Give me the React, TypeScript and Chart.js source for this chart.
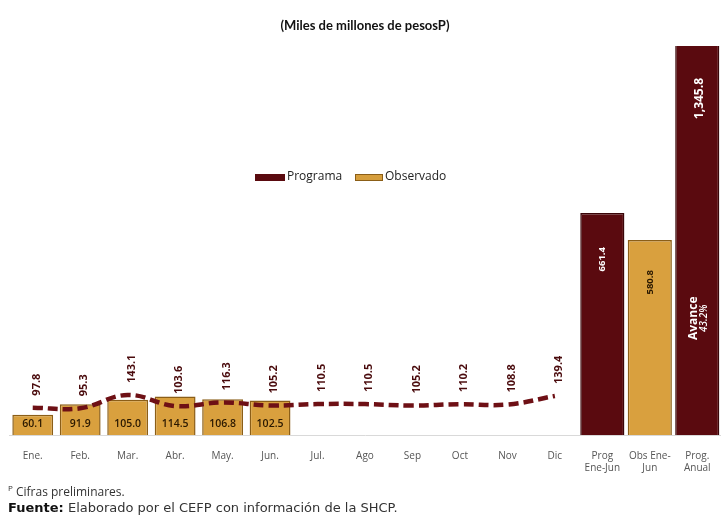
import React, { useEffect, useRef } from "react";
import { Chart, registerables } from "chart.js";

Chart.register(...registerables);

const categories: (string | string[])[] = [
  "Ene.", "Feb.", "Mar.", "Abr.", "May.", "Jun.", "Jul.", "Ago", "Sep", "Oct", "Nov", "Dic",
  ["Prog", "Ene-Jun"], ["Obs Ene-", "Jun"], ["Prog.", "Anual"],
];
const programaMensual: (number | null)[] = [97.8, 95.3, 143.1, 103.6, 116.3, 105.2, 110.5, 110.5, 105.2, 110.2, 108.8, 139.4, null, null, null];
const observadoMensual: (number | null)[] = [60.1, 91.9, 105.0, 114.5, 106.8, 102.5, null, null, null, null, null, null, null, null, null];
const observadoAcumulado: (number | null)[] = [null, null, null, null, null, null, null, null, null, null, null, null, null, 580.8, null];
const programaAcumulado: (number | null)[] = [null, null, null, null, null, null, null, null, null, null, null, null, 661.4, null, 1345.8];
const avanceTexto = ["Avance", "43.2%"];

const fmt = (v: number) => v.toLocaleString("en-US", { minimumFractionDigits: 1, maximumFractionDigits: 1 });

const labelsPlugin = {
  id: "customLabels",
  afterDatasetsDraw(chart: any) {
    const ctx = chart.ctx;
    const area = chart.chartArea;
    const lineMeta = chart.getDatasetMeta(0);
    ctx.save();
    ctx.fillStyle = "#4a0b0d";
    ctx.font = "bold 11px 'Open Sans'";
    ctx.textBaseline = "middle";
    ctx.textAlign = "left";
    lineMeta.data.forEach((pt: any, i: number) => {
      const v = programaMensual[i];
      if (v == null) return;
      ctx.save();
      ctx.translate(pt.x + 4, pt.y - 12);
      ctx.rotate(-Math.PI / 2);
      ctx.fillText(fmt(v), 0, 0);
      ctx.restore();
    });
    const obsMeta = chart.getDatasetMeta(1);
    ctx.fillStyle = "#2a1800";
    ctx.font = "600 10.5px 'Open Sans'";
    ctx.textAlign = "center";
    obsMeta.data.forEach((b: any, i: number) => {
      const v = observadoMensual[i];
      if (v == null) return;
      ctx.fillText(fmt(v), b.x, b.base - 11);
    });
    const accMeta = chart.getDatasetMeta(2);
    ctx.font = "bold 9.5px 'Open Sans'";
    ctx.textAlign = "right";
    accMeta.data.forEach((b: any, i: number) => {
      const v = observadoAcumulado[i];
      if (v == null) return;
      ctx.save();
      ctx.translate(b.x, Math.max(b.y, area.top) + 30);
      ctx.rotate(-Math.PI / 2);
      ctx.fillText(fmt(v), 0, 0);
      ctx.restore();
    });
    const progMeta = chart.getDatasetMeta(3);
    ctx.fillStyle = "#ffffff";
    progMeta.data.forEach((b: any, i: number) => {
      const v = programaAcumulado[i];
      if (v == null) return;
      const top = Math.max(b.y, area.top);
      ctx.save();
      if (i === 14) {
        ctx.font = "bold 12px 'Open Sans'";
        ctx.translate(b.x + 2, top + 32);
      } else {
        ctx.font = "bold 9.5px 'Open Sans'";
        ctx.translate(b.x, top + 34);
      }
      ctx.rotate(-Math.PI / 2);
      ctx.textAlign = "right";
      ctx.fillText(fmt(v), 0, 0);
      ctx.restore();
      if (i === 14) {
        ctx.save();
        ctx.translate(b.x - 4, top + 294);
        ctx.rotate(-Math.PI / 2);
        ctx.textAlign = "left";
        ctx.font = "bold 12px 'Open Sans'";
        ctx.fillText(avanceTexto[0], 0, 0);
        ctx.font = "italic 600 10px 'Open Sans'";
        ctx.fillText(avanceTexto[1], 8, 11);
        ctx.restore();
      }
    });
    const lx = 255, ly = 177;
    ctx.textAlign = "left";
    ctx.font = "12px 'Open Sans'";
    ctx.fillStyle = "#5a0a0f";
    ctx.fillRect(lx, ly - 3, 30, 7);
    ctx.fillStyle = "#222";
    ctx.fillText("Programa", lx + 32, ly);
    ctx.fillStyle = "#d69e3c";
    ctx.fillRect(lx + 100, ly - 3, 28, 7);
    ctx.strokeStyle = "#8b5e17";
    ctx.lineWidth = 1;
    ctx.strokeRect(lx + 100.5, ly - 2.5, 27, 6);
    ctx.fillStyle = "#222";
    ctx.fillText("Observado", lx + 130, ly);
    ctx.restore();
  },
};

export default function App() {
  const ref = useRef<HTMLCanvasElement>(null);
  useEffect(() => {
    document.body.style.margin = "0";
    const chart = new Chart(ref.current!, {
      type: "bar",
      data: {
        labels: categories as any,
        datasets: [
          {
            type: "line",
            label: "Programa",
            data: programaMensual,
            yAxisID: "y2",
            borderColor: "#6e1015",
            borderWidth: 4.5,
            borderDash: [10, 5],
            tension: 0.4,
            pointRadius: 0,
            fill: false,
            order: 0,
          } as any,
          {
            label: "Observado",
            data: observadoMensual,
            backgroundColor: "#d9a03e",
            borderColor: "#8b5e17",
            borderWidth: 1.5,
            barPercentage: 0.86,
            categoryPercentage: 1,
            grouped: false,
            order: 1,
          },
          {
            label: "Observado Ene-Jun",
            data: observadoAcumulado,
            backgroundColor: "#d9a03e",
            borderColor: "#8b5e17",
            borderWidth: 1.5,
            barPercentage: 0.93,
            categoryPercentage: 1,
            grouped: false,
            order: 2,
          },
          {
            label: "Programa acumulado",
            data: programaAcumulado,
            backgroundColor: "#5a0a0f",
            borderColor: "#3a0508",
            borderWidth: 1.5,
            barPercentage: 0.93,
            categoryPercentage: 1,
            grouped: false,
            order: 3,
          },
        ],
      },
      options: {
        animation: false,
        responsive: false,
        maintainAspectRatio: false,
        layout: { padding: { top: 46, left: 9, right: 0, bottom: 0 } },
        plugins: { legend: { display: false }, tooltip: { enabled: false }, title: { display: false } },
        scales: {
          x: {
            grid: { display: false },
            border: { display: true, color: "#d9d9d9" },
            ticks: { color: "#555", font: { family: "'Open Sans'", size: 10 }, padding: 7, maxRotation: 0, autoSkip: false },
            afterFit(scale: any) { scale.height = 87; },
          },
          y: { display: false, min: 0, max: 1159 },
          y2: { display: false, min: 0, max: 1390 },
        },
      },
      plugins: [labelsPlugin],
    });
    return () => chart.destroy();
  }, []);
  return (
    <div style={{ position: "relative", width: 721, height: 522, fontFamily: "'Open Sans', sans-serif" }}>
      <canvas ref={ref} width={721} height={522} style={{ position: "absolute", left: 0, top: 0 }} />
      <div style={{ position: "absolute", top: 17, left: 0, width: 730, textAlign: "center", fontFamily: "Lato", fontWeight: "bold", fontSize: 13, color: "#111" }}>
        (Miles de millones de pesosP)
      </div>
      <div style={{ position: "absolute", top: 482, left: 8, fontSize: 12, color: "#333" }}>
        <sup style={{ fontSize: 8 }}>P</sup> Cifras preliminares.
      </div>
      <div style={{ position: "absolute", top: 500, left: 8, fontSize: 13, color: "#333", fontFamily: "'DejaVu Sans'" }}>
        <b style={{ color: "#111" }}>Fuente:</b> Elaborado por el CEFP con información de la SHCP.
      </div>
    </div>
  );
}
